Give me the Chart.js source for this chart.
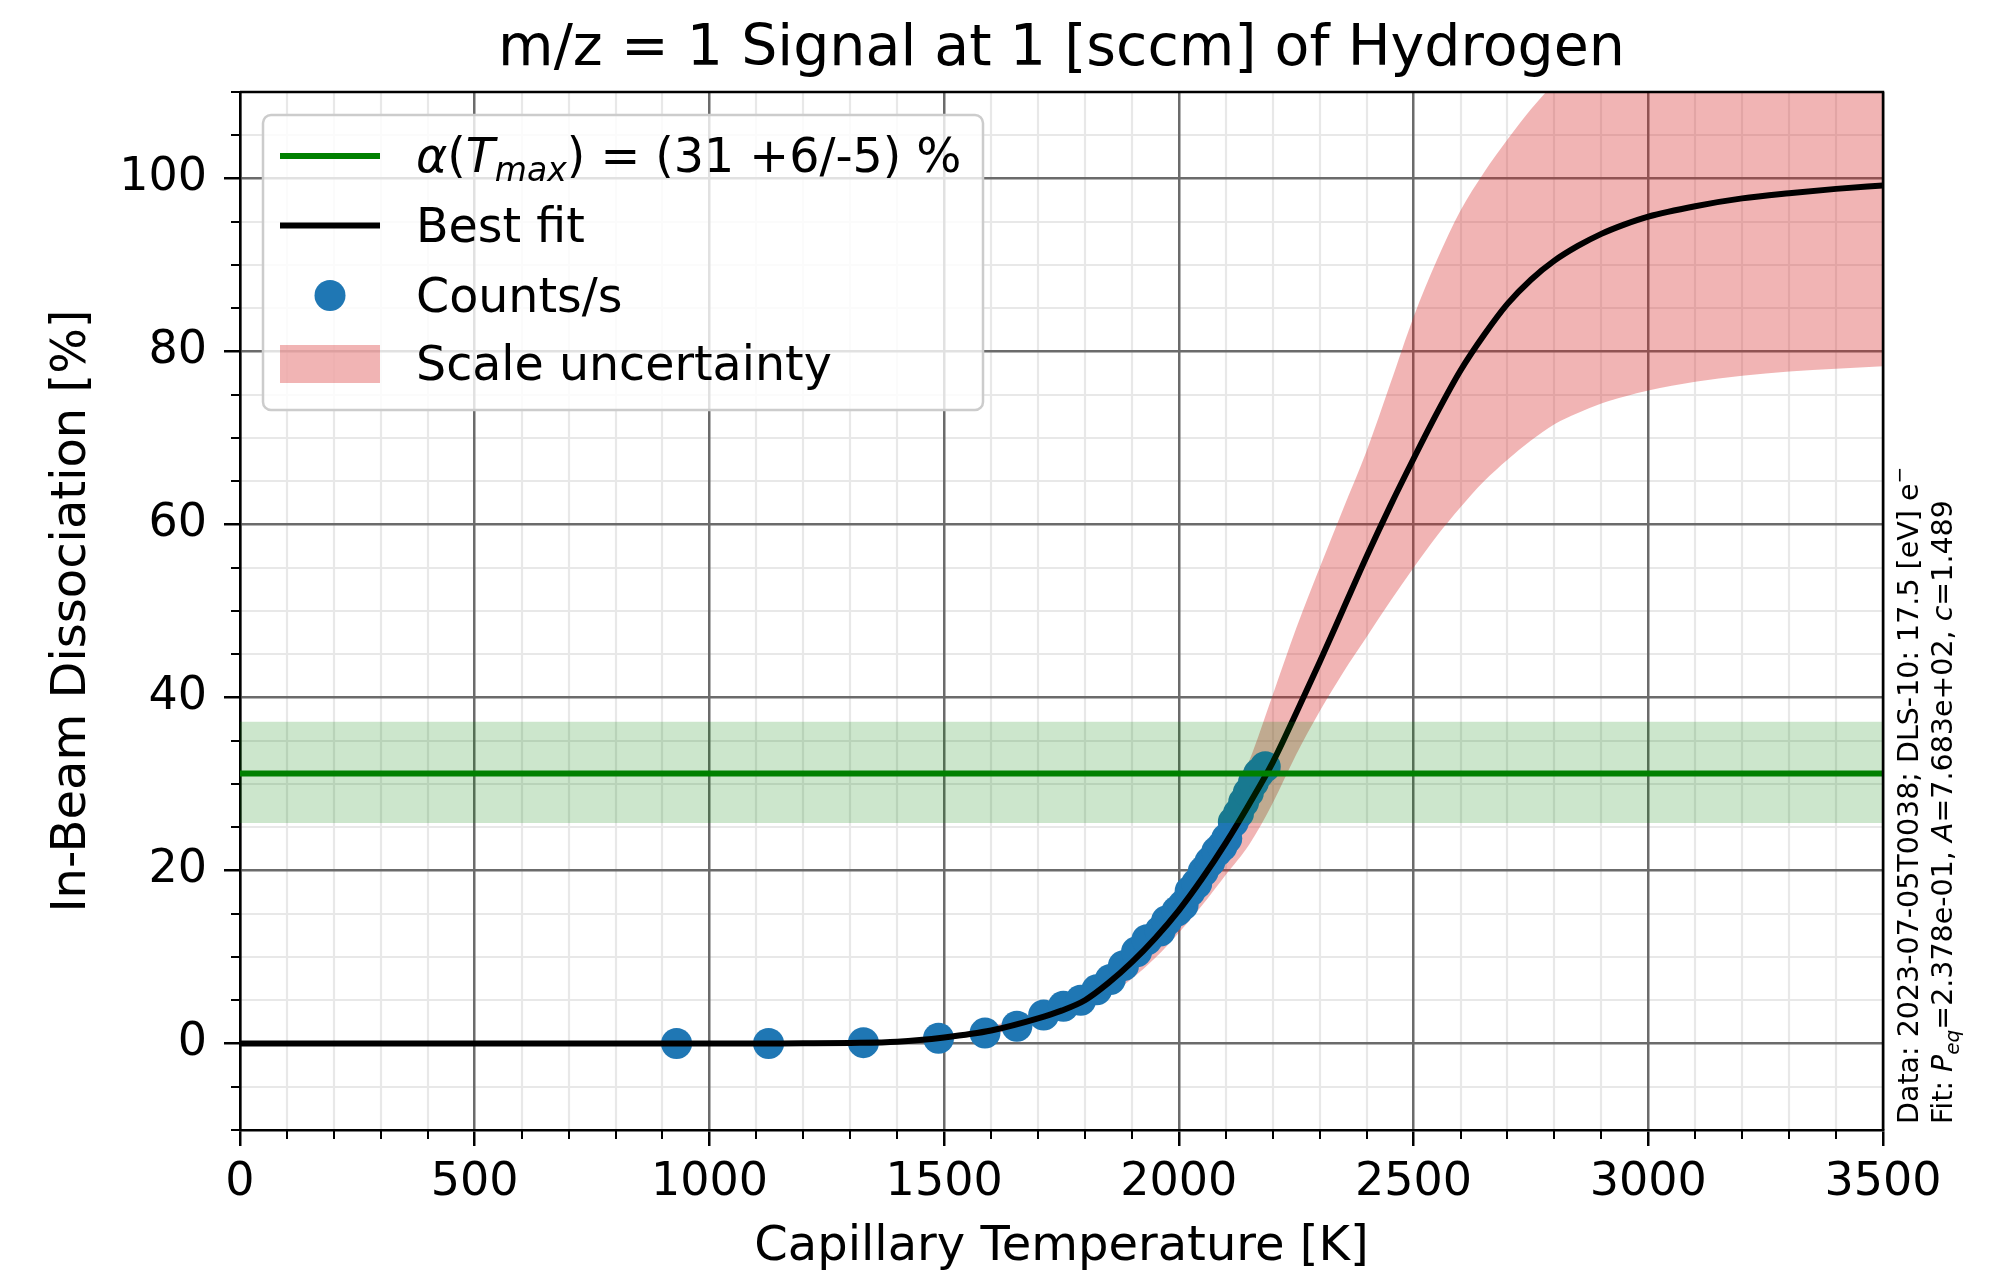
<!DOCTYPE html>
<html>
<head>
<meta charset="utf-8">
<title>m/z = 1 Signal at 1 [sccm] of Hydrogen</title>
<script src="https://cdn.jsdelivr.net/npm/chart.js@4.4.1/dist/chart.umd.min.js"></script>
<style>
    html, body { margin: 0; padding: 0; background: #fff; }
    #wrap { width: 1999px; height: 1277px; }
</style>
</head>
<body>
<div id="wrap"><canvas id="chart" width="1999" height="1277"></canvas></div>
<script>
// --- Data ---
const xTickLabels = [0, 500, 1000, 1500, 2000, 2500, 3000, 3500];
const yTickLabels = [0, 20, 40, 60, 80, 100];

// temperature grid of the fit curve and its uncertainty band [K]
const fitTemp = [0, 100, 200, 300, 400, 500, 600, 700, 800, 900,
    1000, 1100, 1200, 1300, 1400, 1500, 1600,
    1700, 1750, 1800, 1850, 1900, 1950, 2000, 2050, 2100, 2150,
    2200, 2250, 2300, 2350, 2400, 2450, 2500, 2550, 2600, 2650,
    2700, 2750, 2800, 2850, 2900, 2950, 3000,
    3100, 3200, 3300, 3400, 3500];
// best fit [%]
const fitDissociation = [0, 0, 0, 0, 0, 0, 0, 0, 0, 0,
    0, 0.01, 0.02, 0.06, 0.2, 0.7, 1.5,
    2.9, 3.8, 5.0, 7.0, 9.4, 12.2, 15.4, 19.1, 23.2, 27.7,
    32.5, 38.2, 44.1, 50.2, 56.3, 62.1, 67.6, 72.9, 77.8, 81.9,
    85.5, 88.3, 90.5, 92.2, 93.6, 94.7, 95.6,
    96.8, 97.7, 98.3, 98.8, 99.2];
// scale uncertainty band [%]
const bandUpper = [0, 0, 0, 0, 0, 0, 0, 0, 0, 0,
    0, 0.02, 0.04, 0.1, 0.3, 0.9, 2.0,
    3.8, 5.1, 6.6, 8.6, 11.0, 13.8, 17.0, 21.5, 26.8, 32.7,
    40.3, 48.0, 55.0, 61.8, 68.5, 76.2, 84.0, 90.6, 96.3, 100.7,
    104.5, 108.0, 111.0, 113.4, 115.5, 117.1, 118.5,
    120.5, 122.0, 123.0, 123.6, 124.0];
const bandLower = [0, 0, 0, 0, 0, 0, 0, 0, 0, 0,
    0, 0.01, 0.01, 0.04, 0.15, 0.5, 1.1,
    2.2, 3.0, 4.1, 5.6, 7.5, 9.9, 12.8, 16.0, 19.5, 23.0,
    27.8, 33.4, 38.4, 42.9, 47.0, 51.1, 55.0, 58.7, 62.0, 65.0,
    67.5, 69.7, 71.6, 72.9, 74.0, 74.8, 75.5,
    76.5, 77.2, 77.7, 78.0, 78.3];

// measured points (Counts/s converted to dissociation)
const measuredTemp = [930, 1126, 1328, 1488, 1587, 1655, 1712, 1754, 1791, 1825,
    1854, 1882, 1910, 1932, 1960, 1974, 1996, 2009, 2024, 2038,
    2052, 2066, 2081, 2092, 2102, 2116, 2127, 2138, 2148, 2159,
    2170, 2184];
const measuredDissociation = [0.0, 0.0, 0.1, 0.6, 1.2, 2.0, 3.3, 4.3, 5.0, 6.2,
    7.4, 9.0, 10.6, 12.0, 13.0, 14.2, 15.3, 16.0, 17.6, 18.5,
    19.9, 21.0, 22.2, 22.8, 23.7, 25.6, 26.6, 27.9, 29.0, 30.2,
    31.2, 32.0];

// alpha(T_max) with its band [%]
const alphaTmax = 31.2;
const alphaHigh = 37.2;
const alphaLow = 25.5;

// --- Styling ---
const FONT_FAMILY = '"DejaVu Sans", "Liberation Sans", sans-serif';
const MAJOR_GRID = '#6b6b6b';
const MINOR_GRID = '#e8e8e8';
const BLUE = '#1f77b4';
const PINK = 'rgba(214, 39, 40, 0.35)';
const GREEN = '#008000';
const GREEN_BAND = 'rgba(0, 128, 0, 0.2)';
const NONE = 'rgba(0, 0, 0, 0)';

function font(size, italic) {
    return (italic ? 'italic ' : '') + size + 'px ' + FONT_FAMILY;
}

// minor ticks (matplotlib style)
const xMinor = [];
for (let v = 0; v <= 3500; v += 100) if (v % 500 !== 0) xMinor.push(v);
const yMinor = [];
for (let v = -10; v <= 110; v += 5) if (v % 20 !== 0) yMinor.push(v);

function toPoints(xs, ys) {
    return xs.map((x, i) => ({ x: x, y: ys[i] }));
}

// draw a list of text runs one after another
function drawRuns(ctx, runs, x, y) {
    runs.forEach((r) => {
        ctx.font = r.font;
        ctx.fillText(r.text, x, y + (r.dy || 0));
        x += ctx.measureText(r.text).width;
    });
}

function drawTitle(ctx, a) {
    ctx.save();
    ctx.fillStyle = '#000';
    ctx.font = font(57);
    ctx.textAlign = 'center';
    ctx.textBaseline = 'alphabetic';
    ctx.fillText('m/z = 1 Signal at 1 [sccm] of Hydrogen', (a.left + a.right) / 2, 65);
    ctx.restore();
}

function drawLegend(ctx) {
    const bx = 263, by = 115, bw = 720, bh = 295, r = 8;
    ctx.save();
    ctx.beginPath();
    ctx.roundRect(bx, by, bw, bh, r);
    ctx.fillStyle = 'rgba(255, 255, 255, 0.8)';
    ctx.fill();
    ctx.strokeStyle = '#cccccc';
    ctx.lineWidth = 2.5;
    ctx.stroke();

    const rows = [156, 225.5, 295.5, 364];
    const hx0 = 280, hx1 = 380, tx = 416;
    const fs = 47.5;

    ctx.lineWidth = 6;
    ctx.strokeStyle = GREEN;
    ctx.beginPath(); ctx.moveTo(hx0, rows[0]); ctx.lineTo(hx1, rows[0]); ctx.stroke();
    ctx.strokeStyle = '#000';
    ctx.beginPath(); ctx.moveTo(hx0, rows[1]); ctx.lineTo(hx1, rows[1]); ctx.stroke();
    ctx.fillStyle = BLUE;
    ctx.beginPath(); ctx.arc((hx0 + hx1) / 2, rows[2], 15.5, 0, Math.PI * 2); ctx.fill();
    ctx.fillStyle = PINK;
    ctx.fillRect(hx0, rows[3] - 19, hx1 - hx0, 38);

    ctx.fillStyle = '#000';
    ctx.textBaseline = 'alphabetic';
    ctx.textAlign = 'left';
    drawRuns(ctx, [
        { text: 'α', font: font(fs, true) },
        { text: '(', font: font(fs) },
        { text: 'T', font: font(fs, true) },
        { text: 'max', font: font(33, true), dy: 9 },
        { text: ') = (31 +6/-5) %', font: font(fs) }
    ], tx, rows[0] + 16);
    drawRuns(ctx, [{ text: 'Best fit', font: font(fs) }], tx, rows[1] + 16);
    drawRuns(ctx, [{ text: 'Counts/s', font: font(fs) }], tx, rows[2] + 16);
    drawRuns(ctx, [{ text: 'Scale uncertainty', font: font(fs) }], tx, rows[3] + 16);
    ctx.restore();
}

function drawSideNote(ctx) {
    const fs = 28.5, small = 20;
    ctx.save();
    ctx.fillStyle = '#000';
    ctx.textBaseline = 'alphabetic';
    ctx.textAlign = 'left';

    ctx.save();
    ctx.translate(1918, 1124);
    ctx.rotate(-Math.PI / 2);
    drawRuns(ctx, [
        { text: 'Data: 2023-07-05T0038; DLS-10: 17.5 [eV] e', font: font(fs) },
        { text: '−', font: font(small), dy: -12 }
    ], 0, 0);
    ctx.restore();

    ctx.save();
    ctx.translate(1952, 1124);
    ctx.rotate(-Math.PI / 2);
    drawRuns(ctx, [
        { text: 'Fit: ', font: font(fs) },
        { text: 'P', font: font(fs, true) },
        { text: 'eq', font: font(small, true), dy: 7 },
        { text: '=2.378e-01, ', font: font(fs) },
        { text: 'A', font: font(fs, true) },
        { text: '=7.683e+02, ', font: font(fs) },
        { text: 'c', font: font(fs, true) },
        { text: '=1.489', font: font(fs) }
    ], 0, 0);
    ctx.restore();
    ctx.restore();
}

// --- Plugin: background, minor grid, minor ticks, full box, title, legend, note ---
const matplotlibLook = {
    id: 'matplotlibLook',
    beforeDraw(chart) {
        const { ctx, chartArea: a, scales: { x, y } } = chart;
        ctx.save();
        ctx.fillStyle = '#fff';
        ctx.fillRect(0, 0, chart.width, chart.height);
        ctx.strokeStyle = MINOR_GRID;
        ctx.lineWidth = 2.2;
        ctx.beginPath();
        xMinor.forEach((v) => {
            const px = Math.round(x.getPixelForValue(v));
            ctx.moveTo(px, a.top); ctx.lineTo(px, a.bottom);
        });
        yMinor.forEach((v) => {
            const py = Math.round(y.getPixelForValue(v));
            ctx.moveTo(a.left, py); ctx.lineTo(a.right, py);
        });
        ctx.stroke();
        ctx.restore();
    },
    afterDraw(chart) {
        const { ctx, chartArea: a, scales: { x, y } } = chart;
        ctx.save();
        ctx.strokeStyle = '#000';
        ctx.lineWidth = 2;
        ctx.beginPath();
        xMinor.forEach((v) => {
            const px = Math.round(x.getPixelForValue(v));
            ctx.moveTo(px, a.bottom); ctx.lineTo(px, a.bottom + 9);
        });
        yMinor.forEach((v) => {
            const py = Math.round(y.getPixelForValue(v));
            ctx.moveTo(a.left - 9, py); ctx.lineTo(a.left, py);
        });
        ctx.stroke();
        // top and right spines
        ctx.lineWidth = 2.5;
        ctx.beginPath();
        ctx.moveTo(a.left, a.top); ctx.lineTo(a.right, a.top); ctx.lineTo(a.right, a.bottom);
        ctx.stroke();
        ctx.restore();

        drawTitle(ctx, a);
        drawLegend(ctx);
        drawSideNote(ctx);
    }
};

// --- Chart ---
const ctx = document.getElementById('chart').getContext('2d');
const dissociationChart = new Chart(ctx, {
    type: 'line',
    data: {
        datasets: [
            {
                label: 'alpha(Tmax)',
                data: [{ x: 0, y: alphaTmax }, { x: 3500, y: alphaTmax }],
                borderColor: GREEN, borderWidth: 6, pointRadius: 0, order: 0
            },
            {
                label: 'alpha high',
                data: [{ x: 0, y: alphaHigh }, { x: 3500, y: alphaHigh }],
                borderColor: NONE, borderWidth: 0, pointRadius: 0,
                fill: '+1', backgroundColor: GREEN_BAND, order: 1
            },
            {
                label: 'alpha low',
                data: [{ x: 0, y: alphaLow }, { x: 3500, y: alphaLow }],
                borderColor: NONE, borderWidth: 0, pointRadius: 0, order: 1
            },
            {
                label: 'Best fit',
                data: toPoints(fitTemp, fitDissociation),
                borderColor: '#000', borderWidth: 6, pointRadius: 0,
                cubicInterpolationMode: 'monotone', order: 2
            },
            {
                label: 'Counts/s',
                type: 'scatter',
                data: toPoints(measuredTemp, measuredDissociation),
                backgroundColor: BLUE, borderWidth: 0, pointRadius: 15.5, order: 3
            },
            {
                label: 'Scale uncertainty',
                data: toPoints(fitTemp, bandUpper),
                borderColor: NONE, borderWidth: 0, pointRadius: 0,
                cubicInterpolationMode: 'monotone',
                fill: '+1', backgroundColor: PINK, order: 4
            },
            {
                label: 'Scale uncertainty low',
                data: toPoints(fitTemp, bandLower),
                borderColor: NONE, borderWidth: 0, pointRadius: 0,
                cubicInterpolationMode: 'monotone', order: 4
            }
        ]
    },
    options: {
        responsive: false,
        animation: false,
        devicePixelRatio: 1,
        events: [],
        layout: { padding: { top: 92, right: 116, bottom: 0, left: 0 } },
        plugins: {
            legend: { display: false },
            tooltip: { enabled: false },
            title: { display: false }
        },
        scales: {
            x: {
                type: 'linear', min: 0, max: 3500,
                afterBuildTicks: (scale) => { scale.ticks = xTickLabels.map((v) => ({ value: v })); },
                afterFit: (scale) => { scale.height = 147; },
                ticks: {
                    color: '#000', padding: 9, maxRotation: 0, autoSkip: false,
                    font: { family: FONT_FAMILY, size: 46 },
                    callback: (v) => String(v)
                },
                grid: { color: MAJOR_GRID, lineWidth: 2.5, tickLength: 16, tickColor: '#000', tickWidth: 2.5 },
                border: { color: '#000', width: 2.5 },
                title: {
                    display: true, text: 'Capillary Temperature [K]', color: '#000',
                    font: { family: FONT_FAMILY, size: 48 },
                    padding: { top: 0, bottom: 1 }
                }
            },
            y: {
                type: 'linear', min: -10, max: 110,
                afterBuildTicks: (scale) => { scale.ticks = yTickLabels.map((v) => ({ value: v })); },
                afterFit: (scale) => { scale.width = 240; },
                ticks: {
                    color: '#000', padding: 17, autoSkip: false,
                    font: { family: FONT_FAMILY, size: 46 },
                    callback: (v) => String(v)
                },
                grid: { color: MAJOR_GRID, lineWidth: 2.5, tickLength: 16, tickColor: '#000', tickWidth: 2.5 },
                border: { color: '#000', width: 2.5 },
                title: {
                    display: true, text: 'In-Beam Dissociation [%]', color: '#000',
                    font: { family: FONT_FAMILY, size: 48 },
                    padding: { top: 44, bottom: 0 }
                }
            }
        }
    },
    plugins: [matplotlibLook]
});
</script>
</body>
</html>
